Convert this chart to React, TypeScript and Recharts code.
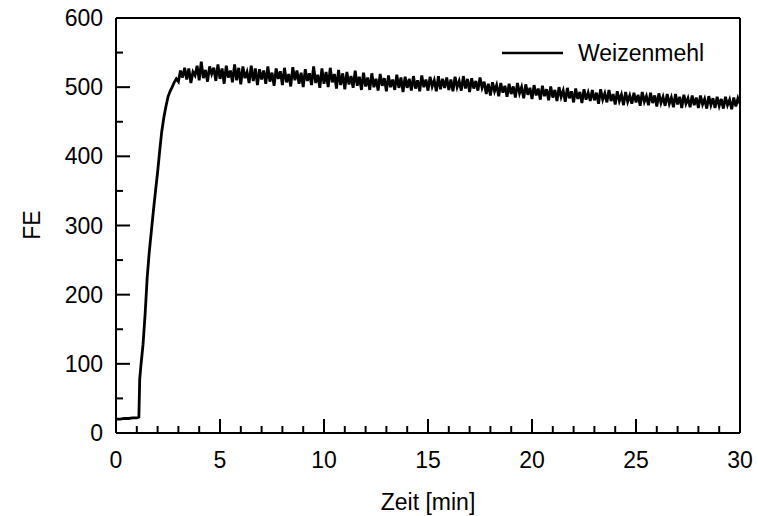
import React from 'react';
import { LineChart, Line, XAxis, YAxis, ReferenceLine } from 'recharts';

// start-up phase (min / FE)
const rampTime = [0, 0.2, 0.4, 0.6, 0.8, 1.0, 1.1, 1.14, 1.2, 1.3, 1.4, 1.5, 1.6, 1.7, 1.8, 1.9, 2.0, 2.1, 2.2, 2.3, 2.4, 2.5, 2.6, 2.7, 2.8, 2.9];
const rampFE = [20, 20, 21, 21, 22, 22, 23, 78, 98, 128, 172, 225, 262, 292, 322, 350, 377, 408, 436, 456, 472, 486, 494, 500, 507, 512];

// noisy plateau, one value every 0.1 min from 3.0 to 30.0
const plateauStart = 3;
const plateauFE = [
  508, 524, 514, 528, 511, 527, 506, 522, 517, 531,
  510, 537, 513, 525, 508, 530, 519, 528, 509, 533,
  512, 527, 505, 531, 514, 524, 507, 533, 510, 528,
  504, 530, 513, 522, 506, 531, 509, 527, 503, 526,
  511, 524, 505, 530, 508, 521, 502, 527, 512, 523,
  503, 528, 507, 519, 501, 529, 510, 524, 505, 521,
  500, 526, 509, 520, 503, 530, 506, 518, 499, 527,
  505, 522, 500, 528, 507, 519, 498, 525, 503, 520,
  497, 522, 504, 516, 499, 524, 502, 515, 496, 521,
  501, 514, 496, 520, 500, 512, 495, 519, 502, 513,
  494, 517, 500, 511, 496, 518, 499, 514, 493, 515,
  499, 512, 495, 516, 498, 510, 494, 517, 500, 511,
  495, 515, 501, 510, 494, 516, 497, 512, 499, 514,
  496, 511, 494, 515, 500, 509, 495, 516, 498, 512,
  493, 513, 498, 509, 495, 514, 499, 508, 490, 505,
  488, 507, 494, 503, 487, 506, 492, 502, 486, 505,
  490, 501, 485, 506, 491, 500, 484, 504, 489, 499,
  483, 503, 488, 498, 482, 502, 487, 497, 481, 501,
  485, 496, 480, 500, 486, 495, 479, 499, 484, 494,
  478, 498, 483, 493, 477, 497, 482, 492, 480, 496,
  481, 492, 476, 497, 482, 491, 478, 496, 480, 490,
  475, 494, 480, 489, 474, 493, 479, 488, 476, 492,
  478, 489, 473, 493, 479, 487, 474, 492, 477, 488,
  472, 491, 477, 486, 473, 490, 476, 485, 471, 490,
  475, 486, 470, 489, 476, 484, 471, 488, 474, 485,
  470, 488, 475, 483, 469, 487, 474, 484, 470, 486,
  473, 483, 469, 486, 474, 482, 468, 485, 472, 484,
  476,
];

const xTicks = Array.from({ length: 31 }, (_, i) => i);
const yTicks = [0, 50, 100, 150, 200, 250, 300, 350, 400, 450, 500, 550, 600];

const data = [
  ...rampTime.map((t, i) => ({ t, fe: rampFE[i] })),
  ...plateauFE.map((fe, i) => ({ t: plateauStart + i / 10, fe })),
];

const FONT = '"Liberation Sans", Arial, sans-serif';

const XTick = (p: any) => {
  const v = p.payload.value;
  const major = v % 5 === 0;
  return (
    <g>
      <line x1={p.x} x2={p.x} y1={p.y} y2={p.y - (major ? 14 : 7)} stroke="#000" strokeWidth={2} />
      {major && (
        <text x={p.x} y={p.y + 35} textAnchor="middle" fontFamily={FONT} fontSize={23} fill="#000">{v}</text>
      )}
    </g>
  );
};

const YTick = (p: any) => {
  const v = p.payload.value;
  const major = v % 100 === 0;
  return (
    <g>
      <line x1={p.x} x2={p.x + (major ? 14 : 7)} y1={p.y} y2={p.y} stroke="#000" strokeWidth={2} />
      {major && (
        <text x={p.x - 13} y={p.y + 8} textAnchor="end" fontFamily={FONT} fontSize={23} fill="#000">{v}</text>
      )}
    </g>
  );
};

export default function App() {
  return (
    <div style={{ position: 'absolute', left: 0, top: 0, background: '#fff' }}>
      <LineChart width={758} height={516} data={data} margin={{ top: 18, right: 18, left: 0, bottom: 0 }}>
        <XAxis
          dataKey="t"
          type="number"
          domain={[0, 30]}
          ticks={xTicks}
          interval={0}
          height={83}
          tickSize={0}
          tickMargin={0}
          tickLine={false}
          axisLine={{ stroke: '#000', strokeWidth: 2 }}
          tick={<XTick />}
          label={{ value: 'Zeit [min]', position: 'insideBottom', offset: 6, fontFamily: FONT, fontSize: 23, fill: '#000' }}
        />
        <YAxis
          type="number"
          domain={[0, 600]}
          ticks={yTicks}
          interval={0}
          width={116}
          tickSize={0}
          tickMargin={0}
          tickLine={false}
          axisLine={{ stroke: '#000', strokeWidth: 2 }}
          tick={<YTick />}
        />
        <ReferenceLine y={600} stroke="#000" strokeWidth={2} />
        <ReferenceLine x={30} stroke="#000" strokeWidth={2} />
        <Line
          dataKey="fe"
          type="linear"
          stroke="#000"
          strokeWidth={2.8}
          dot={false}
          isAnimationActive={false}
        />
        <text x={40} y={225} transform="rotate(-90 40 225)" textAnchor="middle" fontFamily={FONT} fontSize={23} fill="#000">FE</text>
        <line x1={502} x2={563} y1={53} y2={53} stroke="#000" strokeWidth={2.5} />
        <text x={578} y={61} fontFamily={FONT} fontSize={23} fill="#000">Weizenmehl</text>
      </LineChart>
    </div>
  );
}
